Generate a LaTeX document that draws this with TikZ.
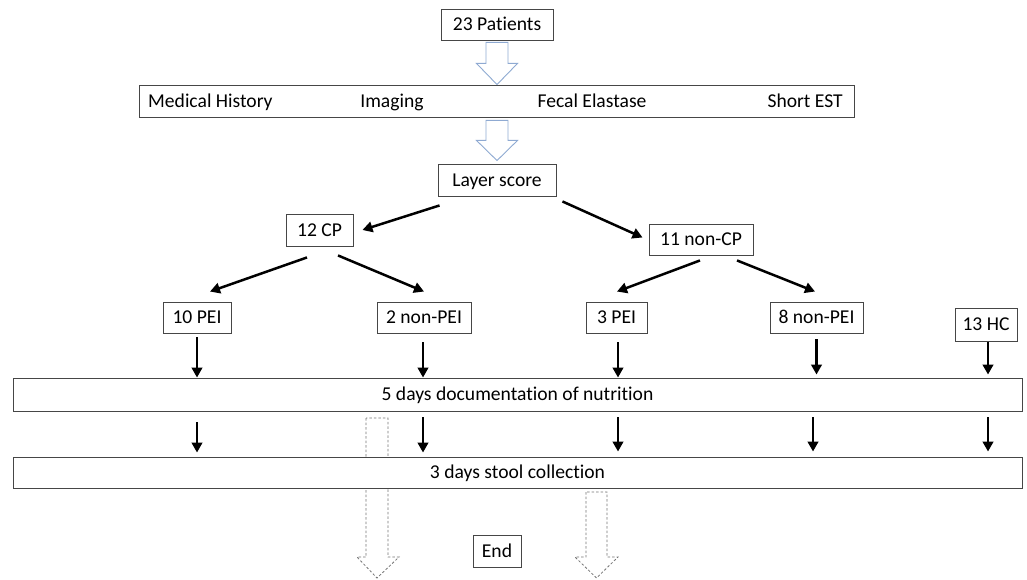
\documentclass[tikz,border=0pt]{standalone}
\usepackage{fontspec}
\setmainfont{Carlito}[RawFeature={-liga}]
\usetikzlibrary{arrows.meta,calc}
\definecolor{hollowblue}{RGB}{143,170,210}
\definecolor{boxline}{RGB}{70,70,70}
\tikzset{
  box/.style={draw=boxline, line width=0.9pt, fill=white, inner sep=0pt, minimum height=32pt, text height=14.5pt, text depth=2pt, font=\fontsize{19.6}{23}\selectfont},
  plain/.style={inner sep=0pt, text height=14.5pt, text depth=2pt, font=\fontsize{19.6}{23}\selectfont},
  arr/.style={line width=2.5pt, -{Triangle[length=10pt,width=10.5pt]}},
  hollow/.style={draw=hollowblue, line width=0.9pt, fill=white, line join=miter},
  dashedarrow/.style={draw=gray!90!black, line width=0.8pt, dashed, dash pattern=on 2.5pt off 2pt}
}
\begin{document}
\begin{tikzpicture}[x=1pt,y=-1pt]
\useasboundingbox (0,0) rectangle (1027,580);
% dashed arrows (behind the stool box)
\draw[dashedarrow] (366,418) -- (366,557) -- (357,557) -- (377,578) -- (399,557) -- (388,557) -- (388,418) -- cycle;
\draw[dashedarrow] (586,492) -- (586,557) -- (575,557) -- (596.5,578) -- (618,557) -- (607,557) -- (607,492) -- cycle;
% nodes
\node[box, minimum width=112pt, minimum height=31pt] (patients) at (497,24.5) {23 Patients};
\node[box, minimum width=715pt] (header) at (496.5,101) {};
\node[plain, anchor=west] (medhist) at (148,101) {Medical History};
\node[plain] (imaging) at (392,101) {Imaging};
\node[plain] (fecal) at (592,101) {Fecal Elastase};
\node[plain, anchor=east] (shortest) at (843,101) {Short EST};
\node[box, minimum width=118pt] (layer) at (497,180) {Layer score};
\node[box, minimum width=67pt] (cp) at (319.5,230) {12 CP};
\node[box, minimum width=104pt, minimum height=31pt] (noncp) at (701,239.5) {11 non-CP};
\node[box, minimum width=68pt, minimum height=31pt] (pei10) at (197,317.5) {10 PEI};
\node[box, minimum width=94pt, minimum height=31pt] (nonpei2) at (424,317.5) {2 non-PEI};
\node[box, minimum width=61pt, minimum height=31pt] (pei3) at (616.5,317.5) {3 PEI};
\node[box, minimum width=93pt, minimum height=31pt] (nonpei8) at (816.5,317.5) {8 non-PEI};
\node[box, minimum width=62pt, minimum height=33pt] (hc) at (986,324.5) {13 HC};
\node[box, minimum width=1009pt, minimum height=33pt] (nut) at (517.5,394.5) {5 days documentation of nutrition};
\node[box, minimum width=1009pt, minimum height=31pt] (stool) at (517.5,472.5) {3 days stool collection};
\node[box, minimum width=48pt] (endn) at (497,551) {End};
% hollow arrows
\draw[hollow] ($(patients.south)+(-11,2)$) -- ++(0,21) -- ++(-9.5,0) -- (patients.south |- header.north) -- ($(patients.south)+(20.5,23)$) -- ++(-9.5,0) -- ($(patients.south)+(11,2)$) -- cycle;
\draw[hollow] ($(header.south)+(-10.5,3)$) -- ++(0,20) -- ++(-9.5,0) -- ($(layer.north)+(0,-3)$) -- ($(header.south)+(21,23)$) -- ++(-9.5,0) -- ($(header.south)+(11.5,3)$) -- cycle;
% diagonal arrows
\draw[arr] ($(layer.south west)+(2,9)$) -- ($(cp.east)+(9,0)$);
\draw[arr] ($(layer.south east)+(6,5)$) -- ($(noncp.west)+(-6,-2)$);
\draw[arr] ($(cp.south)+(-12.5,11)$) -- ($(pei10.north)+(13,-10)$);
\draw[arr] ($(cp.south)+(18.5,9)$) -- ($(nonpei2.north)+(0,-10)$);
\draw[arr] ($(noncp.south)+(-1,5)$) -- ($(pei3.north)+(0.5,-10)$);
\draw[arr] ($(noncp.south)+(36,5)$) -- ($(nonpei8.north)+(-1.5,-10)$);
% vertical arrows to nutrition
\draw[arr] ($(pei10.south)+(0,4)$) -- (pei10.south |- nut.north);
\draw[arr] ($(nonpei2.south)+(-1,9)$) -- ($(nonpei2.south |- nut.north)+(-1,0)$);
\draw[arr] ($(pei3.south)+(1.5,9)$) -- ($(pei3.south |- nut.north)+(1.5,0)$);
\draw[arr] ($(nonpei8.south)+(0,6)$) -- ($(nonpei8.south |- nut.north)+(0,-3)$);
\draw[arr] ($(hc.south)+(2,1)$) -- ($(hc.south |- nut.north)+(2,-3)$);
% vertical arrows to stool
\draw[arr] ($(pei10.south |- nut.south)+(0,11)$) -- ($(pei10.south |- stool.north)+(0,-4)$);
\draw[arr] ($(nonpei2.south |- nut.south)+(-1,6)$) -- ($(nonpei2.south |- stool.north)+(-1,-4)$);
\draw[arr] ($(pei3.south |- nut.south)+(1.5,6)$) -- ($(pei3.south |- stool.north)+(1.5,-5)$);
\draw[arr] ($(nonpei8.south |- nut.south)+(-3.5,6)$) -- ($(nonpei8.south |- stool.north)+(-3.5,-5)$);
\draw[arr] ($(hc.south |- nut.south)+(2,6)$) -- ($(hc.south |- stool.north)+(2,-5)$);
\end{tikzpicture}
\end{document}
